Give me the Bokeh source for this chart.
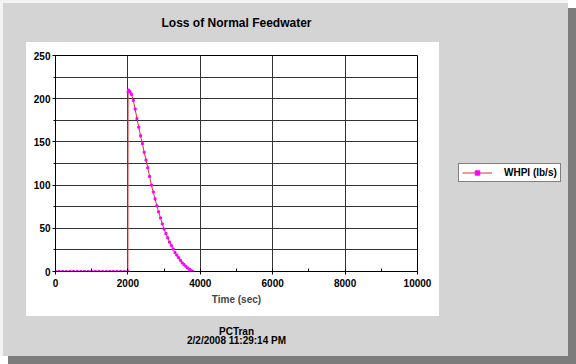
from bokeh.plotting import figure
from bokeh.layouts import row
from bokeh.models import Range1d, Legend, LegendItem, SingleIntervalTicker, Title
from bokeh.embed import file_html
from bokeh.resources import INLINE

# ---- data ----
chart_title = "Loss of Normal Feedwater"
x_label = "Time (sec)"
series_name = "WHPI (lb/s)"
footer_lines = ["PCTran", "2/2/2008 11:29:14 PM"]

time_s = [0, 100, 200, 300, 400, 500, 600, 700, 800, 900, 1000,
          1100, 1200, 1300, 1400, 1500, 1600, 1700, 1800, 1900, 2000,
          2005, 2020, 2060, 2100, 2150, 2200, 2250, 2300, 2350, 2400,
          2450, 2500, 2550, 2600, 2650, 2700, 2750, 2800, 2850, 2900,
          2950, 3000, 3050, 3100, 3150, 3200, 3250, 3300, 3350, 3400,
          3450, 3500, 3550, 3600, 3650, 3700, 3750, 3790]
whpi = [0, 0, 0, 0, 0, 0, 0, 0, 0, 0, 0,
        0, 0, 0, 0, 0, 0, 0, 0, 0, 0,
        208, 210, 208, 205, 198, 188, 177, 167, 157, 148,
        138, 129, 120, 110, 100, 92, 84, 76, 69, 62,
        55, 49, 44, 39, 34, 30, 26, 22, 19, 16,
        13, 10, 8, 6, 4, 2.5, 1, 0]

x_start, x_end, x_step = 0, 10000, 2000
y_start, y_end, y_step = 0, 250, 50

FONT = "Liberation Sans"
LINE_COLOR = "#e03030"
MARK_COLOR = "#ff00ff"

# ---------------- main chart ----------------
p = figure(width=440, height=356, output_backend="svg", toolbar_location=None,
           x_range=Range1d(x_start, x_end), y_range=Range1d(y_start, y_end),
           min_border_left=55, min_border_right=23, min_border_top=55, min_border_bottom=85)
p.border_fill_color = None
p.background_fill_color = "#ffffff"
p.outline_line_color = "#000000"
p.outline_line_width = 1

xt = SingleIntervalTicker(interval=x_step, num_minor_ticks=2)
yt = SingleIntervalTicker(interval=y_step, num_minor_ticks=2)
p.xaxis.ticker = xt
p.yaxis.ticker = yt
p.xgrid.ticker = xt
p.ygrid.ticker = yt

for ax in (p.xaxis[0], p.yaxis[0]):
    ax.axis_line_color = "#000000"
    ax.major_tick_line_color = "#000000"
    ax.minor_tick_line_color = "#000000"
    ax.major_label_text_font = FONT
    ax.major_label_text_font_style = "bold"
    ax.major_label_text_font_size = "10px"
    ax.major_label_text_color = "#000000"
    ax.major_tick_in = 0
    ax.major_tick_out = 3

p.xaxis.minor_tick_in = 3
p.xaxis.minor_tick_out = 0
p.yaxis.minor_tick_in = 0
p.yaxis.minor_tick_out = 2
p.xaxis.major_label_standoff = 4
p.yaxis.major_label_standoff = 2

p.xaxis.axis_label = x_label
p.xaxis.axis_label_text_font = FONT
p.xaxis.axis_label_text_font_style = "bold"
p.xaxis.axis_label_text_font_size = "10px"
p.xaxis.axis_label_standoff = 4

p.xgrid.grid_line_color = "#333333"
p.ygrid.grid_line_color = "#333333"
p.ygrid.minor_grid_line_color = "#333333"

p.line(time_s, whpi, line_color=LINE_COLOR, line_width=1)
p.scatter(time_s, whpi, marker="square", size=2, fill_color=MARK_COLOR,
          line_color=MARK_COLOR)


def spacer(gap):
    # blank text, only used to reserve space in a side panel
    return Title(text=" ", text_font_size="1px", standoff=gap)


# chart title: spacer nearest the frame, then the title
p.add_layout(spacer(25), "above")
p.add_layout(Title(text=chart_title, align="center", vertical_align="bottom",
                   standoff=-4, text_font=FONT, text_font_style="bold",
                   text_font_size="12px", text_color="#000000"), "above")

# footer: spacer under the axis, then the two centred lines
p.add_layout(spacer(17), "below")
for txt in footer_lines:
    p.add_layout(Title(text=txt, align="center", vertical_align="top", standoff=-4,
                       text_font=FONT, text_font_style="bold",
                       text_font_size="10px", text_color="#000000"), "below")

# ---------------- legend panel ----------------
q = figure(width=128, height=356, output_backend="svg", toolbar_location=None,
           x_axis_type=None, y_axis_type=None, min_border=0)
q.border_fill_color = None
q.background_fill_color = None
q.outline_line_color = None
q.grid.visible = False
lg_line = q.line(time_s, whpi, line_color=LINE_COLOR, line_width=1, visible=False)
lg_pts = q.scatter(time_s, whpi, marker="square", size=3, fill_color=MARK_COLOR,
                   line_color=MARK_COLOR, visible=False)
legend = Legend(items=[LegendItem(label=series_name, renderers=[lg_line, lg_pts])],
                location=(18, 89), margin=0,
                background_fill_color="#ffffff", background_fill_alpha=1,
                border_line_color="#000000", border_line_width=1.5,
                inactive_fill_alpha=0,
                padding=3, spacing=0,
                glyph_width=30, glyph_height=11, label_height=11,
                label_standoff=12,
                label_text_font=FONT, label_text_font_style="bold",
                label_text_font_size="10px", label_text_color="#000000")
q.add_layout(legend, "center")

layout = row(p, q, spacing=0, styles={
    "background": "linear-gradient(#ffffff, #ffffff) 26px 42px / 413px 274px no-repeat, #d4d4d4",
    "box-shadow": "8px 8px 0 0 #7c7c7c, inset 3px 3px 0 0 #f4f4f4",
})

open("out.html", "w").write(file_html(layout, INLINE))
